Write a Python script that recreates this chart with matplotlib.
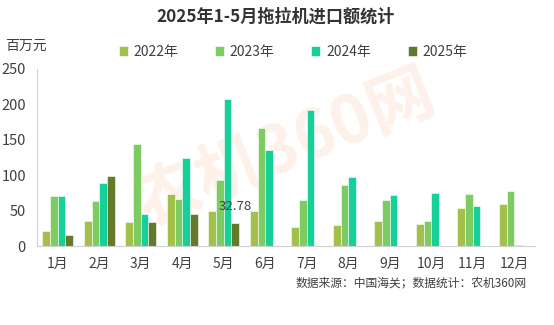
import matplotlib
matplotlib.use("Agg")
import matplotlib.pyplot as plt
import numpy as np

plt.rcParams['font.family'] = ['Noto Sans CJK SC', 'DejaVu Sans']

months = ['1月', '2月', '3月', '4月', '5月', '6月', '7月', '8月', '9月', '10月', '11月', '12月']
series_names = ['2022年', '2023年', '2024年', '2025年']
v2022 = [21, 36, 34, 74, 50, 49, 27, 29, 35, 31, 54, 60]
v2023 = [70, 63, 144, 67, 93, 167, 65, 86, 65, 35, 73, 78]
v2024 = [71, 89, 45, 125, 208, 135, 192, 98, 72, 75, 56, 1.5]
v2025 = [15, 99, 34, 45, 32.78]
colors = ['#a3c14a', '#7dcc63', '#17cf98', '#627a2a']
yticks = [0, 50, 100, 150, 200, 250]

W, H = 554, 325
fig = plt.figure(figsize=(W / 100, H / 100), dpi=100)
ax = fig.add_axes([37 / W, (H - 246) / H, (535 - 37) / W, (246 - 69) / H])

x = np.arange(len(months))
bw = 0.185
data = [v2022, v2023, v2024, v2025]
for i, (vals, c, name) in enumerate(zip(data, colors, series_names)):
    xs = x[:len(vals)] + (i - 1.5) * bw
    ax.bar(xs, vals, width=bw, color=c, edgecolor='white', linewidth=0.4, label=name, zorder=2)

# data label
ax.text(4 + 1.5 * bw, v2025[4] + 14, f'{v2025[4]:.2f}', ha='center', va='bottom',
        fontsize=9.5, color='#404040', zorder=3)

ax.set_xlim(-0.5, 11.5)
ax.set_ylim(0, 250)
ax.set_yticks(yticks)
ax.set_xticks(x)
ax.set_xticklabels(months)
ax.tick_params(axis='both', length=0, labelsize=10, colors='#404040')
ax.tick_params(axis='y', labelsize=10.5)
ax.tick_params(axis='x', pad=8)
ax.tick_params(axis='y', pad=8)
for s in ['top', 'right']:
    ax.spines[s].set_visible(False)
ax.spines['left'].set_color('#d0d0d0')
ax.spines['bottom'].set_color('#d0d0d0')
ax.spines['left'].set_linewidth(0.8)
ax.spines['bottom'].set_linewidth(0.8)

# watermark (behind bars)
ax.text(285 / W, 1 - 150 / H, '农机360网', transform=fig.transFigure, fontsize=48,
        fontweight='bold', color='#f7c09a', alpha=0.22, rotation=22, ha='center',
        va='center', zorder=1)

fig.text(276 / W, 1 - 17 / H, '2025年1-5月拖拉机进口额统计', ha='center', va='center',
         fontsize=12.3, fontweight='bold', color='#333333')
fig.text(5 / W, 1 - 46 / H, '百万元', ha='left', va='center', fontsize=10, color='#404040')

leg = fig.legend(loc='center left', bbox_to_anchor=(119 / W, 1 - 52 / H), ncol=4, frameon=False,
                 fontsize=10, handlelength=0.65, handleheight=0.65, handletextpad=0.4,
                 columnspacing=2.65, borderaxespad=0, borderpad=0)
for t in leg.get_texts():
    t.set_color('#404040')

fig.text(527 / W, 1 - 283 / H, '数据来源：中国海关；数据统计：农机360网', ha='right', va='center',
         fontsize=8.5, color='#404040')

fig.savefig('out.png', dpi=100)
